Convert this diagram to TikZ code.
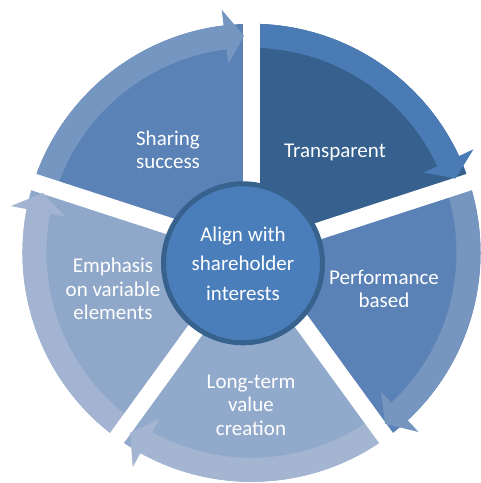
\documentclass[tikz,border=0pt]{standalone}
\usepackage{fontspec}
\setmainfont{Carlito}
\usepackage{tikz}
\usetikzlibrary{calc}
\definecolor{transfill}{RGB}{54,96,141}
\definecolor{transband}{RGB}{74,123,180}
\definecolor{perffill}{RGB}{91,130,183}
\definecolor{perfband}{RGB}{118,150,192}
\definecolor{longfill}{RGB}{145,169,203}
\definecolor{longband}{RGB}{164,181,210}
\definecolor{emphfill}{RGB}{143,167,201}
\definecolor{emphband}{RGB}{162,180,210}
\definecolor{sharefill}{RGB}{90,130,182}
\definecolor{shareband}{RGB}{117,150,192}
\definecolor{centerfill}{RGB}{74,126,187}
\definecolor{centerline}{RGB}{56,98,142}

\begin{document}
\begin{tikzpicture}[x=1pt,y=1pt,
  seglabel/.style={text=white,align=center,font=\fontsize{21}{23.5}\selectfont},
  gapline/.style={draw=white,line width=17pt},
  hub/.style={circle,draw=centerline,line width=5pt,fill=centerfill,minimum size=159pt,inner sep=0pt,
    text=white,align=center,font=\fontsize{21}{29.5}\selectfont}]
\useasboundingbox (-251.5,-230.2) rectangle (229.5,252.8);
\foreach \s/\e/\f/\b in {90/18/transfill/transband,18/-54/perffill/perfband,-54/-126/longfill/longband,
  -126/-198/emphfill/emphband,-198/-270/sharefill/shareband}{
  \fill[\f] (0,0) -- (\s:229) arc[start angle=\s,end angle=\e,radius=229pt] -- cycle;
  \fill[\b] (\s:205) arc[start angle=\s,end angle=\e+7,radius=205pt] -- ({\e+7}:229)
    arc[start angle=\e+7,end angle=\s,radius=229pt] -- cycle;
}
\foreach \a in {90,18,-54,-126,-198}
  \draw[gapline] (0,0) -- (\a:240);
\foreach \e/\b in {18/transband,-54/perfband,-126/longband,-198/emphband,-270/shareband}
  \fill[\b] ({\e+7}:190) -- ({\e+2}:217) -- ({\e+7}:245) -- cycle;
\node[seglabel] (transp) at (83.5,100.8) {Transparent};
\node[seglabel] (perf) at (132.5,-36.2) {Performance\\based};
\node[seglabel] (longterm) at (-0.5,-152.2) {Long-term\\value\\creation};
\node[seglabel] (emph) at (-138.5,-36.2) {Emphasis\\on variable\\elements};
\node[seglabel] (share) at (-83.5,102.8) {Sharing\\success};
\node[hub] (align) at (-8.5,-10.5) {Align with\\shareholder\\interests};
\end{tikzpicture}
\end{document}
